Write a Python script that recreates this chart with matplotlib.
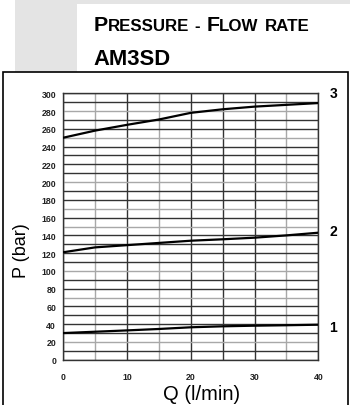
import numpy as np
import matplotlib.pyplot as plt
from matplotlib.patches import Rectangle

plt.rcParams['font.family'] = ['Liberation Sans', 'DejaVu Sans']

# data
flow = [0, 5, 10, 15, 20, 25, 30, 35, 40]
p_curve3 = [250, 258, 264.5, 270.5, 278, 282, 285, 287, 289]
p_curve2 = [121, 126.5, 129, 131.5, 134, 135.6, 137.4, 140, 143]
p_curve1 = [30, 31.5, 33, 34.6, 36.5, 37.6, 38.3, 38.8, 39.4]
curve_names = ["3", "2", "1"]
name_pos = [300.5, 145, 36.5]
x_ticks = [0, 10, 20, 30, 40]
y_ticks = list(range(0, 301, 20))

W, H = 350, 406
fig = plt.figure(figsize=(W / 100, H / 100), dpi=100)


def fx(px):
    return px / W


def fy(py):
    return 1 - py / H


frame_top = 73
# header background
fig.patches.append(Rectangle((fx(15), fy(frame_top)), fx(335), frame_top / H,
                             transform=fig.transFigure, facecolor='#e4e4e4',
                             edgecolor='none', zorder=0))
fig.patches.append(Rectangle((fx(77), fy(frame_top)), fx(273), (frame_top - 5) / H,
                             transform=fig.transFigure, facecolor='white',
                             edgecolor='none', zorder=1))
# frame around the chart
fig.patches.append(Rectangle((fx(2.5), fy(410)), fx(345), (410 - frame_top) / H,
                             transform=fig.transFigure, facecolor='none',
                             edgecolor='black', linewidth=1.2, zorder=2))

# title in small caps, one piece per size change (gap = space before it, px)
big, small = 15.4, 12.2
renderer = fig.canvas.get_renderer()
pieces = [("P", big, 0), ("RESSURE", small, 0), ("-", small, 6),
          ("F", big, 6), ("LOW", small, 0), ("RATE", small, 6)]
base = fy(31)
x = 93.3
for txt, size, gap in pieces:
    x += gap
    t = fig.text(fx(x), base, txt, fontsize=size, fontweight='bold', va='baseline', ha='left')
    x += t.get_window_extent(renderer).width

fig.text(fx(93), fy(65), "AM3SD", fontsize=15.8, fontweight='bold', va='baseline')

ax = fig.add_axes([fx(63.3), fy(360.7), fx(255), 266.4 / H])
ax.set_xlim(0, 40)
ax.set_ylim(0, 300)

# grid: some lines print lighter in the original
grey_v = [5, 15, 35]
grey_h = [20, 70, 100, 150, 170, 200, 250, 280]
for v in range(0, 41, 5):
    ax.axvline(v, color='#a8a8a8' if v in grey_v else '#333333', lw=1.0, zorder=1)
for h in range(0, 301, 10):
    ax.axhline(h, color='#a8a8a8' if h in grey_h else '#333333', lw=1.0, zorder=1)

for p in (p_curve3, p_curve2, p_curve1):
    ax.plot(flow, p, color='black', lw=1.6, zorder=3)

for name, yv in zip(curve_names, name_pos):
    ax.text(42.35, yv, name, fontsize=10, fontweight='bold', ha='center', va='center',
            clip_on=False)

for s in ax.spines.values():
    s.set_color('#333333')
    s.set_linewidth(1.0)

ax.set_xticks(x_ticks)
ax.set_yticks(y_ticks)
ax.tick_params(length=0, labelsize=6.3)
ax.tick_params(axis='y', pad=5.2)
ax.tick_params(axis='x', pad=8.5)
for lab in ax.get_xticklabels() + ax.get_yticklabels():
    lab.set_fontweight('bold')
    lab.set_color('#222222')

fig.text(fx(21.7), fy(250.5), "P (bar)", rotation=90, fontsize=13, ha='center', va='center')
fig.text(fx(202), fy(395), "Q (l/min)", fontsize=14.5, ha='center', va='center')

fig.savefig('out.png', dpi=100)
